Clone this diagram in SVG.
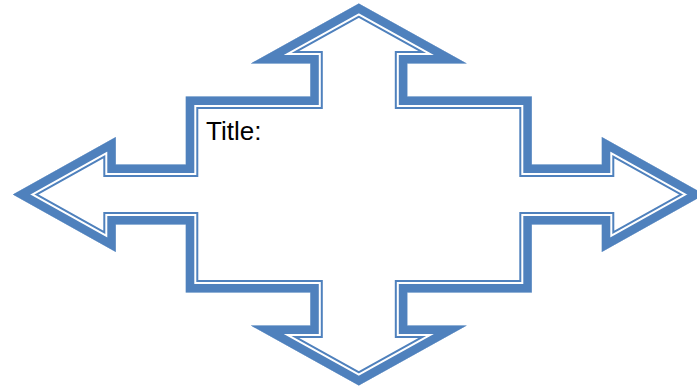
<svg xmlns="http://www.w3.org/2000/svg" xmlns:xlink="http://www.w3.org/1999/xlink" width="697" height="387" viewBox="0 0 697 387">
  <style>
    .outline { fill: none; stroke-linejoin: miter; stroke-miterlimit: 10; }
    .thin-outer { stroke: #4F81BD; stroke-width: 25; }
    .gap { stroke: #FFFFFF; stroke-width: 21; }
    .thick { stroke: #4F81BD; stroke-width: 17; }
    .label { font-family: "Liberation Sans", "Open Sans", sans-serif; font-size: 26px; fill: #000000; }
  </style>
  <defs>
    <path id="quad-shape" d="M358.8,3.5 L466.8,63.5 L407.3,63.5 L407.3,96.5 L531.8,96.5 L531.8,164.5 L601.8,164.5 L601.8,137 L704.8,194.5 L601.8,252 L601.8,224.5 L531.8,224.5 L531.8,292.5 L407.3,292.5 L407.3,325.5 L466.8,325.5 L358.8,385.5 L250.8,325.5 L310.3,325.5 L310.3,292.5 L185.8,292.5 L185.8,224.5 L115.8,224.5 L115.8,252 L12.8,194.5 L115.8,137 L115.8,164.5 L185.8,164.5 L185.8,96.5 L310.3,96.5 L310.3,63.5 L250.8,63.5 Z"/>
    <clipPath id="inside">
      <use href="#quad-shape" xlink:href="#quad-shape"/>
    </clipPath>
  </defs>
  <rect x="0" y="0" width="697" height="387" fill="#FFFFFF"/>
  <g id="quad-arrow">
    <use href="#quad-shape" xlink:href="#quad-shape" fill="#FFFFFF"/>
    <g clip-path="url(#inside)">
      <use href="#quad-shape" xlink:href="#quad-shape" class="outline thin-outer"/>
      <use href="#quad-shape" xlink:href="#quad-shape" class="outline gap"/>
      <use href="#quad-shape" xlink:href="#quad-shape" class="outline thick"/>
    </g>
  </g>
  <g id="title">
    <text class="label" x="206" y="140">Title:</text>
  </g>
</svg>
